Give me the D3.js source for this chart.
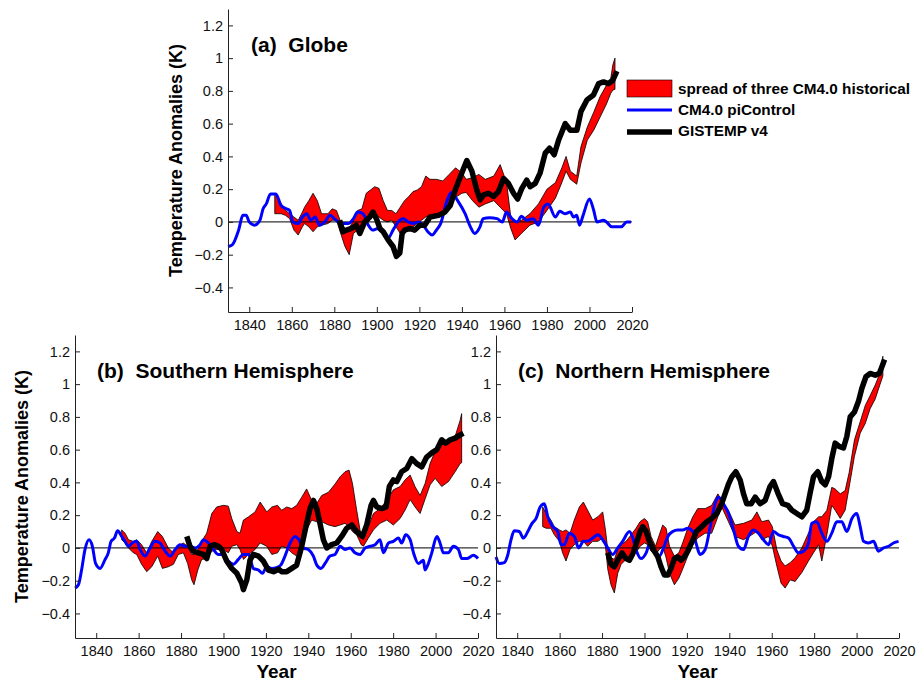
<!DOCTYPE html>
<html>
<head>
<meta charset="utf-8">
<script src="https://cdn.jsdelivr.net/npm/d3@7"></script>
<style>
  body { margin: 0; background: #fff; }
  svg { font-family: "Liberation Sans", Arial, Helvetica, sans-serif; }
</style>
</head>
<body>
<div id="chart"></div>
<script>
// tick values shared by the three panels
const xTicks = [1840, 1860, 1880, 1900, 1920, 1940, 1960, 1980, 2000, 2020];
const yTicks = [-0.4, -0.2, 0, 0.2, 0.4, 0.6, 0.8, 1, 1.2];
const legendLabels = ['spread of three CM4.0 historical', 'CM4.0 piControl', 'GISTEMP v4'];

// (a) Globe  -- spread rows are [year, low, high]
const globeSpread = [
  [1852, 0.05, 0.175], [1853.5, 0.05, 0.15], [1855, 0.05, 0.11], [1857, 0.04, 0.07], [1859, 0.02, 0.05],
  [1861, -0.05, 0.03], [1863, -0.08, 0.01], [1865, -0.03, 0.06], [1866, -0.01, 0.09], [1868, -0.03, 0.13],
  [1870, -0.06, 0.175], [1872, -0.03, 0.13], [1874, -0.02, 0.05], [1877, -0.01, 0.05], [1879, 0.01, 0.08],
  [1881, 0.01, 0.07], [1883, -0.07, 0.0], [1885, -0.15, -0.04], [1887, -0.2, -0.04], [1889, -0.07, 0.01],
  [1891, -0.05, 0.07], [1893, -0.01, 0.08], [1895, 0.03, 0.175], [1897, 0.05, 0.195], [1899, 0.05, 0.215],
  [1901, 0.03, 0.205], [1903, 0.01, 0.13], [1905, 0.0, 0.07], [1907, 0.01, 0.07], [1909, -0.03, 0.05],
  [1911, -0.07, 0.09], [1913, -0.05, 0.13], [1915, -0.03, 0.155], [1917, -0.03, 0.185], [1919, -0.01, 0.195],
  [1921, 0.01, 0.215], [1923, 0.03, 0.28], [1925, 0.04, 0.26], [1928, 0.03, 0.26], [1931, 0.07, 0.25],
  [1934, 0.09, 0.29], [1937, 0.15, 0.33], [1940, 0.175, 0.3], [1942, 0.18, 0.26], [1945, 0.13, 0.27],
  [1948, 0.09, 0.29], [1951, 0.11, 0.26], [1955, 0.13, 0.28], [1958, 0.09, 0.35], [1961, 0.05, 0.24],
  [1963, -0.04, 0.03], [1965, -0.11, 0.0], [1968, -0.07, 0.01], [1972, -0.02, 0.05], [1976, 0.0, 0.11],
  [1980, 0.07, 0.2], [1984, 0.145, 0.24], [1987, 0.24, 0.33], [1989, 0.31, 0.4], [1991, 0.26, 0.31],
  [1994, 0.23, 0.28], [1996, 0.36, 0.46], [1999, 0.5, 0.58], [2002, 0.56, 0.67], [2005, 0.64, 0.765],
  [2008, 0.72, 0.835], [2010, 0.785, 0.875], [2011, 0.805, 0.96], [2012, 0.81, 1.0]
];
const globeCtrl = [
  [1830, -0.15], [1832, -0.14], [1835, -0.05], [1837, 0.04], [1838.5, 0.04], [1840, 0.0], [1842.5, -0.02],
  [1845, 0.01], [1846.5, 0.08], [1848, 0.11], [1850, 0.17], [1852.5, 0.17], [1855, 0.1], [1857.5, 0.08],
  [1859, 0.07], [1860.5, 0.0], [1863, -0.01], [1865, 0.03], [1867, 0.05], [1869, 0.01], [1871, 0.03],
  [1873, -0.02], [1875.5, 0.0], [1878, 0.04], [1880, 0.02], [1882, 0.0], [1884, -0.01], [1886.5, -0.01],
  [1889, 0.02], [1891, 0.06], [1893.5, 0.05], [1896, -0.02], [1898, -0.05], [1900.5, -0.04], [1903, -0.06],
  [1905.3, -0.1], [1907.6, -0.05], [1910, 0.0], [1912.4, 0.02], [1914.7, 0.0], [1917, -0.01], [1919.4, 0.0],
  [1921.8, -0.02], [1924, -0.06], [1926, -0.08], [1928, -0.05], [1930, -0.01], [1933, 0.13], [1935, 0.18],
  [1938, 0.13], [1941.5, 0.05], [1944, -0.03], [1946, -0.07], [1948.5, -0.03], [1950, 0.02], [1953, 0.025],
  [1956.5, 0.02], [1959, 0.0], [1961, 0.06], [1963.5, 0.02], [1966, 0.0], [1968, 0.035], [1970.5, 0.01],
  [1973.5, 0.02], [1976, -0.02], [1978.5, 0.09], [1980.5, 0.11], [1984, 0.03], [1986, 0.065], [1988.5, 0.05],
  [1991, 0.06], [1992.5, 0.03], [1994, 0.04], [1995.3, -0.02], [1997, 0.04], [2000, 0.14], [2002, 0.07],
  [2003.5, 0.0], [2006.5, 0.01], [2008, 0.0], [2010.5, -0.03], [2013, -0.03], [2015, -0.03], [2017.5, 0.0],
  [2019.5, 0.0]
];
const globeObs = [
  [1882.5, 0.01], [1884, -0.06], [1885.7, -0.05], [1888, -0.04], [1890.4, -0.02], [1892, -0.07], [1894.3, 0.0],
  [1896.7, 0.03], [1898.2, 0.06], [1899.8, 0.02], [1901.4, -0.04], [1903, -0.06], [1905.3, -0.11],
  [1907.6, -0.15], [1909.2, -0.21], [1910.8, -0.19], [1911.9, -0.07], [1913.1, -0.05], [1915.5, -0.04],
  [1917.8, -0.05], [1920.2, -0.02], [1922.5, -0.02], [1925, 0.03], [1929, 0.04], [1932, 0.06], [1934.5, 0.1],
  [1937, 0.2], [1940, 0.3], [1942.3, 0.375], [1944.7, 0.31], [1947, 0.195], [1948.6, 0.135], [1950.2, 0.165],
  [1952.5, 0.175], [1954.9, 0.155], [1957.2, 0.185], [1959.6, 0.265], [1961.9, 0.235], [1964.3, 0.175],
  [1966.2, 0.14], [1968.2, 0.205], [1970.5, 0.255], [1972.1, 0.215], [1974.5, 0.235], [1976.8, 0.3],
  [1979.2, 0.42], [1981.2, 0.45], [1983.4, 0.41], [1985.5, 0.5], [1988.6, 0.6], [1991, 0.56], [1994.1, 0.56],
  [1996, 0.675], [1998.8, 0.745], [2001.9, 0.775], [2004.3, 0.845], [2006.6, 0.855], [2009, 0.845],
  [2011, 0.865], [2012.9, 0.92]
];

// (b) Southern Hemisphere
const shSpread = [
  [1852, 0.05, 0.11], [1853.6, 0.03, 0.09], [1855.2, 0, 0.05], [1857.5, -0.03, 0.04], [1859.1, -0.04, 0.05],
  [1861.4, -0.1, 0.02], [1863.8, -0.145, -0.03], [1866.2, -0.115, 0.04], [1869, -0.05, 0.1], [1871.2, -0.125, 0.07],
  [1874, -0.115, 0], [1876.4, -0.1, -0.03], [1878.7, -0.04, 0.01], [1881.1, -0.03, 0.03], [1883.1, -0.095, 0.01],
  [1885, -0.195, -0.04], [1886.1, -0.225, -0.04], [1887.9, -0.135, -0.01], [1889.7, -0.07, 0.04],
  [1892.1, -0.065, 0.09], [1894.5, -0.02, 0.21], [1896.8, -0.01, 0.25], [1900, -0.01, 0.26], [1902.3, -0.03, 0.255],
  [1903.9, 0.01, 0.18], [1906.3, 0.02, 0.1], [1907.8, -0.01, 0.09], [1909.4, -0.07, 0.17], [1911.8, -0.04, 0.19],
  [1914.9, -0.01, 0.22], [1917.3, 0.03, 0.28], [1920.4, 0.01, 0.22], [1922.8, -0.04, 0.25], [1925.5, -0.03, 0.26],
  [1927.4, 0.01, 0.23], [1929.8, 0, 0.25], [1932.2, -0.03, 0.24], [1934.5, -0.05, 0.26], [1936.9, -0.01, 0.31],
  [1939.2, 0.11, 0.36], [1941.6, 0.17, 0.29], [1943.9, 0.16, 0.27], [1946.3, 0.16, 0.32], [1949.5, 0.14, 0.34],
  [1952.6, 0.13, 0.39], [1955, 0.14, 0.435], [1957.3, 0.15, 0.465], [1959.2, 0.13, 0.475], [1960.8, 0.1, 0.395],
  [1962.8, 0.08, 0.23], [1964.9, 0.02, 0.07], [1966, 0.01, 0.05], [1968.3, 0.06, 0.13], [1970.7, 0.11, 0.21],
  [1973.8, 0.15, 0.24], [1977, 0.17, 0.29], [1980.1, 0.14, 0.355], [1983.3, 0.18, 0.375], [1985.6, 0.23, 0.415],
  [1988, 0.295, 0.445], [1990.3, 0.25, 0.375], [1992.7, 0.21, 0.32], [1995.1, 0.3, 0.395], [1997.4, 0.385, 0.515],
  [1999.8, 0.425, 0.59], [2002.9, 0.375, 0.66], [2006.1, 0.405, 0.65], [2009.2, 0.465, 0.68],
  [2011.6, 0.515, 0.78], [2012.3, 0.52, 0.82]
];
const shCtrl = [
  [1830, -0.245], [1831.6, -0.225], [1833.1, -0.135], [1834.7, -0.01], [1836.6, 0.05], [1838.2, 0.01],
  [1839.7, -0.095], [1841.8, -0.125], [1844.2, -0.07], [1845.7, -0.03], [1847, 0.04], [1848.6, 0.06],
  [1850.1, 0.105], [1852, 0.07], [1853.6, 0.04], [1855.2, 0.01], [1857, 0.03], [1859.1, 0.04], [1860.7, -0.01],
  [1863, -0.05], [1865.4, 0], [1867.7, 0.04], [1870.1, 0.03], [1872.5, -0.02], [1874.8, -0.05], [1877.2, -0.01],
  [1879.5, 0.02], [1881.9, 0.01], [1884.2, 0.01], [1886.6, 0], [1889, 0.02], [1890.5, 0.05], [1892.9, 0.03],
  [1895.3, -0.01], [1897.6, -0.04], [1900, -0.04], [1902.3, -0.08], [1904.7, -0.1], [1907, -0.07],
  [1909.4, -0.04], [1911.8, -0.04], [1914.1, -0.125], [1916.5, -0.135], [1918.4, -0.155], [1920.4, -0.115],
  [1922.8, -0.125], [1925, -0.12], [1927, -0.105], [1929, -0.05], [1931.4, 0.03], [1933.7, 0.07], [1935.6, 0.05],
  [1937.7, 0], [1940, -0.01], [1942.4, -0.05], [1944, -0.105], [1946, -0.125], [1947.9, -0.095], [1950.2, -0.05],
  [1952.6, -0.04], [1955, 0.01], [1957.3, -0.01], [1959.7, 0], [1962, -0.03], [1964.4, -0.04], [1966.8, 0],
  [1969.1, 0.01], [1971.5, 0.02], [1973.8, 0.05], [1975.4, -0.03], [1977.8, 0.03], [1980.1, 0.04],
  [1982.5, 0.06], [1984, 0.03], [1985.9, 0.08], [1988, 0.05], [1989.6, -0.03], [1991.9, -0.095],
  [1994.3, -0.075], [1995, -0.135], [1996.6, -0.095], [1998.2, -0.03], [2000.6, 0.07], [2002.1, 0.03],
  [2003.7, -0.03], [2006, -0.03], [2008.4, 0.01], [2010.8, -0.01], [2012.3, -0.065], [2014.7, -0.065],
  [2017.9, -0.045], [2020, -0.065]
];
const shObs = [
  [1882.7, 0.07], [1884.2, 0.01], [1885.8, -0.02], [1888.2, -0.03], [1890.5, -0.04], [1892.1, -0.065],
  [1893.7, 0.01], [1895.7, 0.02], [1897.6, 0.01], [1899.2, -0.01], [1901.5, -0.08], [1903.9, -0.125],
  [1906.3, -0.155], [1908.6, -0.215], [1909.4, -0.255], [1911, -0.195], [1912.5, -0.075], [1914.1, -0.04],
  [1916.5, -0.05], [1918.8, -0.08], [1921.2, -0.135], [1923.6, -0.145], [1926, -0.13], [1927.4, -0.145],
  [1929.8, -0.145], [1932.2, -0.125], [1934.5, -0.105], [1936.9, 0.01], [1939.2, 0.15], [1940.8, 0.24],
  [1942.4, 0.29], [1944, 0.24], [1945.5, 0.15], [1947.1, 0.05], [1948.7, 0], [1951, 0.02], [1953.4, 0.03],
  [1955.7, 0.07], [1958.1, 0.12], [1960.5, 0.14], [1962.8, 0.1], [1965.5, 0.07], [1967.5, 0.14], [1969.6, 0.26],
  [1970.7, 0.29], [1972.3, 0.25], [1974.6, 0.24], [1976.7, 0.25], [1978.2, 0.375], [1980.1, 0.415],
  [1981.7, 0.405], [1984, 0.465], [1986.4, 0.485], [1988.8, 0.545], [1991.1, 0.515], [1993.5, 0.495],
  [1995.8, 0.555], [1998.2, 0.58], [2000.6, 0.6], [2002.9, 0.66], [2004.8, 0.64], [2006.9, 0.66],
  [2009.2, 0.67], [2011.6, 0.69], [2013.1, 0.7]
];

// (c) Northern Hemisphere
const nhSpread = [
  [1852, 0.13, 0.25], [1853.6, 0.12, 0.21], [1855.9, 0.12, 0.17], [1857.5, 0.08, 0.13], [1859.9, 0.04, 0.11],
  [1861.4, -0.03, 0.1], [1863, -0.08, 0.11], [1864.9, -0.01, 0.09], [1866.9, 0.02, 0.17], [1869.3, 0.04, 0.25],
  [1871.2, 0.04, 0.28], [1873.2, 0.01, 0.23], [1875.6, 0.04, 0.17], [1878, 0.04, 0.19], [1880.3, 0.06, 0.22],
  [1881.6, 0.01, 0.11], [1882.7, -0.13, -0.01], [1884.2, -0.225, -0.06], [1885.8, -0.275, -0.07],
  [1887.4, -0.155, -0.01], [1889, -0.1, 0.02], [1891.3, -0.07, 0.04], [1893.7, -0.05, 0.08], [1896, -0.03, 0.12],
  [1897.9, 0.01, 0.16], [1900, 0.03, 0.18], [1901.5, 0.02, 0.16], [1903.1, -0.02, 0.07], [1905.2, -0.04, 0.01],
  [1907, -0.01, 0.08], [1908.6, 0.01, 0.14], [1910.2, -0.06, 0.12], [1911.8, -0.155, 0.01], [1914.1, -0.225, -0.05],
  [1916.2, -0.185, -0.03], [1918, -0.13, 0.03], [1920.4, -0.05, 0.12], [1922.8, 0.02, 0.19], [1925.1, 0.06, 0.24],
  [1928.6, 0.09, 0.24], [1931.7, 0.09, 0.26], [1934.6, 0.19, 0.33], [1936.4, 0.25, 0.29], [1939.6, 0.16, 0.23],
  [1942.7, 0.07, 0.14], [1946.7, 0.05, 0.15], [1950.6, 0.08, 0.17], [1953, 0.1, 0.22], [1955.3, 0.05, 0.16],
  [1958.5, 0.07, 0.17], [1960.3, 0.01, 0.13], [1962.4, -0.11, -0.01], [1964.4, -0.215, -0.08],
  [1966.3, -0.245, -0.11], [1968.7, -0.195, -0.09], [1971, -0.205, -0.06], [1974.2, -0.15, 0],
  [1977.3, -0.08, 0.09], [1979.7, -0.03, 0.16], [1982.1, 0.02, 0.19], [1983.6, -0.08, 0.19], [1986, 0.08, 0.23],
  [1988.3, 0.26, 0.37], [1989.9, 0.23, 0.36], [1992.3, 0.18, 0.33], [1994.6, 0.23, 0.35], [1996.5, 0.37, 0.46],
  [1999, 0.56, 0.66], [2001.7, 0.7, 0.77], [2004.1, 0.76, 0.87], [2006.4, 0.85, 0.93], [2008.8, 0.91, 0.995],
  [2011.1, 1.0, 1.07], [2012.4, 1.05, 1.17]
];
const nhCtrl = [
  [1830, -0.055], [1831.6, -0.095], [1833.9, -0.09], [1835.5, -0.045], [1837.1, 0.05], [1838.6, 0.105],
  [1841, 0.1], [1842.9, 0.06], [1845, 0.1], [1847, 0.15], [1848.9, 0.18], [1850.8, 0.25], [1852.8, 0.27],
  [1854.4, 0.19], [1856.7, 0.13], [1859.1, 0.1], [1860.7, 0.02], [1862.2, 0.02], [1864.6, 0.09], [1866.9, 0.07],
  [1869, 0], [1871.2, 0.04], [1873.2, 0.04], [1875.6, 0.06], [1878, 0.08], [1880.3, 0.05], [1882.7, 0],
  [1885, -0.04], [1887.4, 0], [1889.7, 0.04], [1892.9, 0.1], [1894.5, 0.06], [1896, -0.01], [1898.4, -0.065],
  [1900.8, -0.03], [1902.6, 0.03], [1904.7, -0.01], [1907, -0.05], [1909, 0], [1911, 0.07], [1913.3, 0.1],
  [1915.7, 0.11], [1918, 0.11], [1920.4, 0.12], [1922.8, 0.1], [1924.5, 0.02], [1926.2, -0.04], [1928.6, -0.01],
  [1931, 0.13], [1933.3, 0.27], [1934.9, 0.31], [1937.2, 0.27], [1939.6, 0.21], [1942, 0.11], [1944.3, 0.01],
  [1946.7, -0.01], [1949, 0.07], [1951.4, 0.11], [1953.7, 0.09], [1956.1, 0.05], [1958.5, 0.02], [1960.8, 0.1],
  [1963.2, 0.08], [1965.5, 0.07], [1967.9, 0.06], [1970.3, 0.01], [1972.6, -0.03], [1975, -0.02], [1977.3, 0.03],
  [1978.9, 0.15], [1981.2, 0.16], [1983.6, 0.09], [1986, 0.04], [1988.3, 0.09], [1990.7, 0.16], [1993, 0.16],
  [1995.4, 0.1], [1997.8, 0.18], [2000.1, 0.21], [2001.7, 0.13], [2003.3, 0.04], [2005.6, 0.03], [2008, 0.04],
  [2010.3, -0.02], [2012.7, 0], [2015.1, 0.01], [2017.4, 0.03], [2019.8, 0.04]
];
const nhObs = [
  [1882.7, -0.03], [1884.2, -0.1], [1885.8, -0.115], [1887.4, -0.075], [1889.4, -0.03], [1891.3, -0.065],
  [1892.9, -0.075], [1894.5, -0.035], [1896, 0.02], [1897.9, 0.1], [1899.2, 0.13], [1900.8, 0.1], [1902.3, 0.04],
  [1904.2, -0.01], [1906.3, -0.055], [1907.8, -0.115], [1909.4, -0.165], [1911, -0.165], [1912.5, -0.125],
  [1914.1, -0.065], [1915.7, -0.055], [1917.3, -0.075], [1918.8, -0.055], [1920.4, -0.02], [1922.5, 0.04],
  [1924.5, 0.1], [1927, 0.13], [1929.4, 0.16], [1931.7, 0.18], [1934.1, 0.21], [1936.4, 0.27], [1938, 0.33],
  [1939.6, 0.39], [1941.2, 0.435], [1943.1, 0.465], [1945.1, 0.415], [1946.7, 0.33], [1948.2, 0.27],
  [1950.3, 0.27], [1952.2, 0.31], [1954.5, 0.27], [1956.9, 0.29], [1959.2, 0.375], [1960.8, 0.405],
  [1962.9, 0.335], [1965.1, 0.27], [1967.6, 0.26], [1969.5, 0.23], [1971.8, 0.21], [1974.2, 0.19],
  [1976.5, 0.23], [1978.1, 0.335], [1979.7, 0.435], [1981.7, 0.465], [1983.6, 0.405], [1985.2, 0.385],
  [1986.8, 0.435], [1988.3, 0.545], [1989.9, 0.64], [1991.8, 0.62], [1993.8, 0.61], [1995.4, 0.68], [1997, 0.8],
  [1999, 0.83], [2000.9, 0.895], [2002.5, 0.975], [2004.4, 1.045], [2006.4, 1.065], [2008.8, 1.055],
  [2010.7, 1.065], [2011.9, 1.105], [2013.2, 1.15]
];

const width = 923;
const height = 683;

const svg = d3.select('#chart')
  .append('svg')
  .attr('width', width)
  .attr('height', height);

const fmtTick = d => (d < 0 ? '\u2212' : '') + String(Math.round(Math.abs(d) * 10) / 10);

function drawPanel(p) {
  const x = d3.scaleLinear().domain([1830, 2020]).range([p.left, p.right]);
  const y = d3.scaleLinear().domain([-0.55, 1.3]).range([p.bottom, p.top]);

  const g = svg.append('g');

  // red spread between the three historical runs
  const area = d3.area()
    .x(d => x(d[0]))
    .y0(d => y(d[1]))
    .y1(d => y(d[2]));
  g.append('path')
    .datum(p.spread)
    .attr('d', area)
    .attr('fill', '#ff0000')
    .attr('stroke', '#000')
    .attr('stroke-width', 0.8)
    .attr('stroke-linejoin', 'round');

  // zero line
  g.append('line')
    .attr('x1', x(1830)).attr('x2', x(2020))
    .attr('y1', y(0)).attr('y2', y(0))
    .attr('stroke', '#000')
    .attr('stroke-width', 1);

  const line = d3.line().x(d => x(d[0])).y(d => y(d[1]));

  g.append('path')
    .datum(p.ctrl)
    .attr('d', line.curve(d3.curveMonotoneX))
    .attr('fill', 'none')
    .attr('stroke', '#0000ff')
    .attr('stroke-width', 3)
    .attr('stroke-linejoin', 'round');

  g.append('path')
    .datum(p.obs)
    .attr('d', line.curve(d3.curveLinear))
    .attr('fill', 'none')
    .attr('stroke', '#000')
    .attr('stroke-width', 5.5)
    .attr('stroke-linejoin', 'round');

  // axes, ticks pointing inward like the original
  const ax = g.append('g')
    .attr('transform', `translate(0,${p.bottom})`)
    .call(d3.axisBottom(x).tickValues(xTicks).tickFormat(d3.format('d'))
      .tickSizeInner(-5).tickSizeOuter(0).tickPadding(8));
  const ay = g.append('g')
    .attr('transform', `translate(${p.left},0)`)
    .call(d3.axisLeft(y).tickValues(yTicks).tickFormat(fmtTick)
      .tickSizeInner(-5).tickSizeOuter(0).tickPadding(5));

  [ax, ay].forEach(a => {
    a.select('.domain').attr('stroke', '#222');
    a.selectAll('.tick line').attr('stroke', '#222');
    a.selectAll('text')
      .attr('font-size', '14.5px')
      .attr('font-family', '"Liberation Sans", Arial, sans-serif')
      .attr('fill', '#111');
  });

  g.append('text')
    .attr('x', p.titleX)
    .attr('y', p.titleY)
    .attr('font-size', '21px')
    .attr('font-weight', 'bold')
    .attr('xml:space', 'preserve')
    .style('white-space', 'pre')
    .text(p.title);

  if (p.yLabelX !== null) {
    g.append('text')
      .attr('transform', `translate(${p.yLabelX},${(p.top + p.bottom) / 2}) rotate(-90)`)
      .attr('text-anchor', 'middle')
      .attr('font-size', '18px')
      .attr('font-weight', 'bold')
      .text('Temperature Anomalies (K)');
  }

  if (p.xLabel) {
    g.append('text')
      .attr('x', (p.left + p.right) / 2)
      .attr('y', 678)
      .attr('text-anchor', 'middle')
      .attr('font-size', '19px')
      .attr('font-weight', 'bold')
      .text('Year');
  }
}

drawPanel({ left: 228, right: 632, top: 9, bottom: 312, spread: globeSpread, ctrl: globeCtrl, obs: globeObs,
  title: '(a)  Globe', titleX: 251, titleY: 52, yLabelX: 182, xLabel: false });
drawPanel({ left: 75, right: 478, top: 335, bottom: 638, spread: shSpread, ctrl: shCtrl, obs: shObs,
  title: '(b)  Southern Hemisphere', titleX: 97, titleY: 378, yLabelX: 28, xLabel: true });
drawPanel({ left: 496, right: 899, top: 335, bottom: 638, spread: nhSpread, ctrl: nhCtrl, obs: nhObs,
  title: '(c)  Northern Hemisphere', titleX: 518, titleY: 378, yLabelX: null, xLabel: true });

// legend
const legend = svg.append('g').attr('transform', 'translate(627,0)');
legend.append('rect')
  .attr('x', 0).attr('y', 80).attr('width', 45).attr('height', 17)
  .attr('fill', '#ff0000').attr('stroke', '#000').attr('stroke-width', 0.6);
legend.append('line')
  .attr('x1', 0).attr('x2', 45).attr('y1', 110).attr('y2', 110)
  .attr('stroke', '#0000ff').attr('stroke-width', 3);
legend.append('line')
  .attr('x1', 0).attr('x2', 45).attr('y1', 132).attr('y2', 132)
  .attr('stroke', '#000').attr('stroke-width', 5.5);
legend.selectAll('text.lab')
  .data(legendLabels)
  .enter()
  .append('text')
  .attr('class', 'lab')
  .attr('x', 51)
  .attr('y', (d, i) => 94 + i * 21)
  .attr('font-size', '15.3px')
  .attr('font-weight', 'bold')
  .text(d => d);
</script>
</body>
</html>
